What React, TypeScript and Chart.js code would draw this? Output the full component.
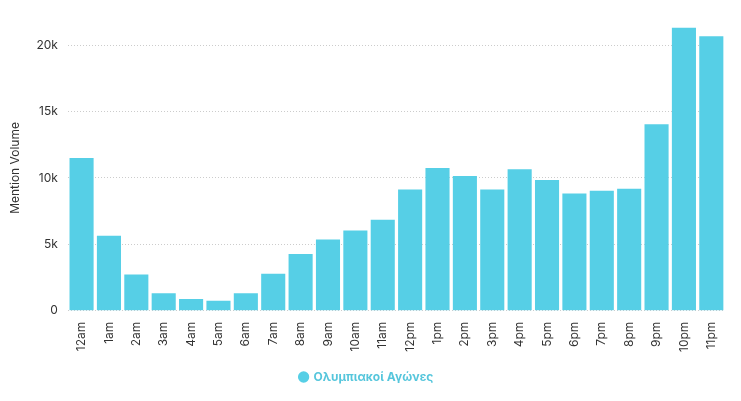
import { useEffect, useRef } from "react";
import { Chart, registerables } from "chart.js";
Chart.register(...registerables);

const categories = ["12am","1am","2am","3am","4am","5am","6am","7am","8am","9am","10am","11am","12pm","1pm","2pm","3pm","4pm","5pm","6pm","7pm","8pm","9pm","10pm","11pm"];
const values = [11500,5650,2720,1320,880,740,1320,2790,4260,5370,6030,6840,9120,10740,10150,9120,10660,9850,8820,9040,9190,14040,21300,20660];
const yTicks = [0, 5000, 10000, 15000, 20000];
const seriesName = "Ολυμπιακοί Αγώνες";
const color = "#56cfe6";

export default function App() {
  const ref = useRef<HTMLCanvasElement>(null);
  useEffect(() => {
    const chart = new Chart(ref.current!, {
      type: "bar",
      data: { labels: categories, datasets: [{ label: seriesName, data: values, backgroundColor: color, categoryPercentage: 1, barPercentage: 0.88 }] },
      options: {
        animation: false, responsive: false, maintainAspectRatio: false,
        layout: { padding: { left: 0, right: 8, top: 0, bottom: 0 } },
        scales: {
          x: { grid: { display: false }, border: { display: false }, ticks: { minRotation: 90, maxRotation: 90, color: "#333", font: { family: "Inter", size: 12 } } },
          y: { min: 0, max: 21500, border: { display: false, dash: [1, 2] } as any,
            grid: { color: "#cccccc", drawTicks: false },
            afterBuildTicks: (s: any) => { s.ticks = yTicks.map((v) => ({ value: v })); },
            ticks: { color: "#333", padding: 10, font: { family: "Inter", size: 12 }, callback: (v: any) => v === 0 ? "0" : v / 1000 + "k" },
            title: { display: true, text: "Mention Volume", color: "#333", padding: { top: 0, bottom: 4 }, font: { family: "Inter", size: 12 } } }
        },
        plugins: {
          legend: { position: "bottom", labels: { usePointStyle: true, pointStyle: "circle", boxWidth: 8, boxHeight: 8, color: "#56c6dc", font: { family: "Inter", size: 12, weight: "bold" }, padding: 16 } },
          tooltip: { enabled: false }
        }
      }
    });
    return () => chart.destroy();
  }, []);
  return <canvas ref={ref} width={725} height={385} style={{ display: "block" }} />;
}
